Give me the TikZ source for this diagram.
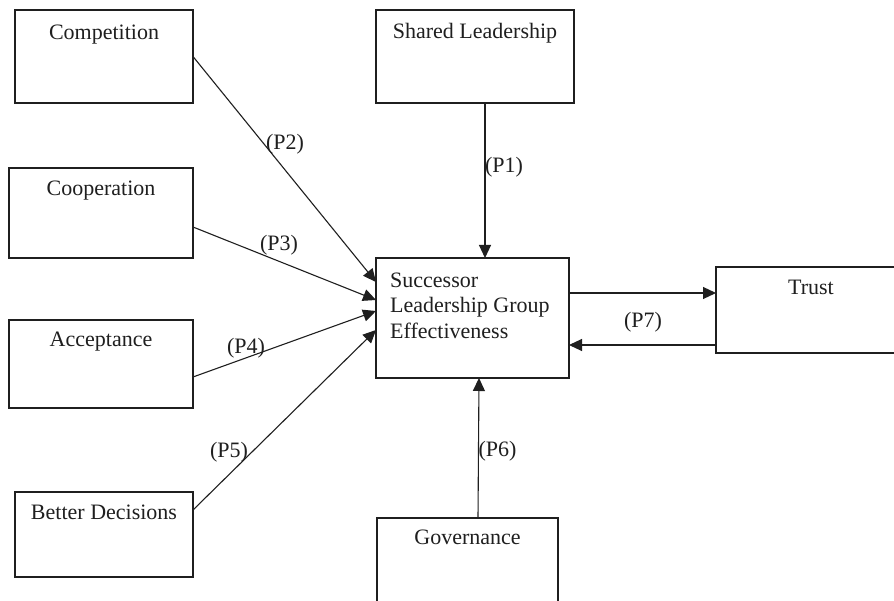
\documentclass[tikz,border=0pt]{standalone}
\usepackage{fontspec}
\setmainfont{Liberation Serif}
\usetikzlibrary{arrows.meta}
\begin{document}
\begin{tikzpicture}[x=1pt,y=-1pt,
  box/.style={draw=black!88, line width=1.1pt, inner sep=0pt, outer sep=0pt},
  txt/.style={font=\fontsize{22}{25.5}\selectfont, inner sep=0pt, text=black!88},
  conn/.style={draw=black!88, line width=1.1pt, -{Triangle[length=13pt,width=12pt]}}]
\useasboundingbox (0,0) rectangle (894,601);
\clip (0,0) rectangle (894,601);
\fill[white] (0,0) rectangle (894,601);
% boxes
\node[box, minimum width=178pt, minimum height=93pt] (comp) at (104,56.5) {};
\node[box, minimum width=198pt, minimum height=93pt] (shared) at (475,56.5) {};
\node[box, minimum width=184pt, minimum height=90pt] (coop) at (101,213) {};
\node[box, minimum width=184pt, minimum height=88pt] (acc) at (101,364) {};
\node[box, minimum width=178pt, minimum height=85pt] (bet) at (104,534.5) {};
\node[box, minimum width=193pt, minimum height=120pt] (succ) at (472.5,318) {};
\node[box, minimum width=190pt, minimum height=86pt] (trust) at (811,310) {};
\node[box, minimum width=181pt, minimum height=102pt] (gov) at (467.5,569) {};
% box texts
\node[txt, anchor=base] (tcomp) at ([yshift=-29.5pt]comp.north) {Competition};
\node[txt, anchor=base] (tshared) at ([yshift=-29pt]shared.north) {Shared Leadership};
\node[txt, anchor=base] (tcoop) at ([yshift=-28pt]coop.north) {Cooperation};
\node[txt, anchor=base] (tacc) at ([yshift=-27pt]acc.north) {Acceptance};
\node[txt, anchor=base] (tbet) at ([yshift=-27pt]bet.north) {Better Decisions};
\node[txt, anchor=base] (ttrust) at ([yshift=-28pt]trust.north) {Trust};
\node[txt, anchor=base] (tgov) at ([yshift=-26pt]gov.north) {Governance};
\node[txt, align=left, anchor=north west] (tsucc) at ([xshift=14pt,yshift=-14.4pt]succ.north west) {Successor\\Leadership Group\\Effectiveness};
% connectors
\draw[conn] (comp.east) -- ([yshift=36pt]succ.west);
\draw[conn] ([yshift=-14pt]coop.east) -- ([yshift=18pt]succ.west);
\draw[conn] ([yshift=-13pt]acc.east) -- ([yshift=7pt]succ.west);
\draw[conn] ([yshift=24.5pt]bet.east) -- ([yshift=-12pt]succ.west);
\draw[conn] ([xshift=10pt]shared.south) -- ([xshift=12.5pt]succ.north);
\draw[conn] ([xshift=10.5pt]gov.north) -- ([xshift=6.5pt]succ.south);
\draw[conn] ([yshift=25pt]succ.east) -- ([yshift=17pt]trust.west);
\draw[conn] ([yshift=-35pt]trust.west) -- ([yshift=-27pt]succ.east);
% labels
\node[txt] (p1) at (504,167) {(P1)};
\node[txt] (p2) at (285,144) {(P2)};
\node[txt] (p3) at (279,245) {(P3)};
\node[txt] (p4) at (246,348) {(P4)};
\node[txt] (p5) at (229,452) {(P5)};
\node[txt] (p6) at (497.5,451) {(P6)};
\node[txt] (p7) at (643,322) {(P7)};
\end{tikzpicture}
\end{document}
